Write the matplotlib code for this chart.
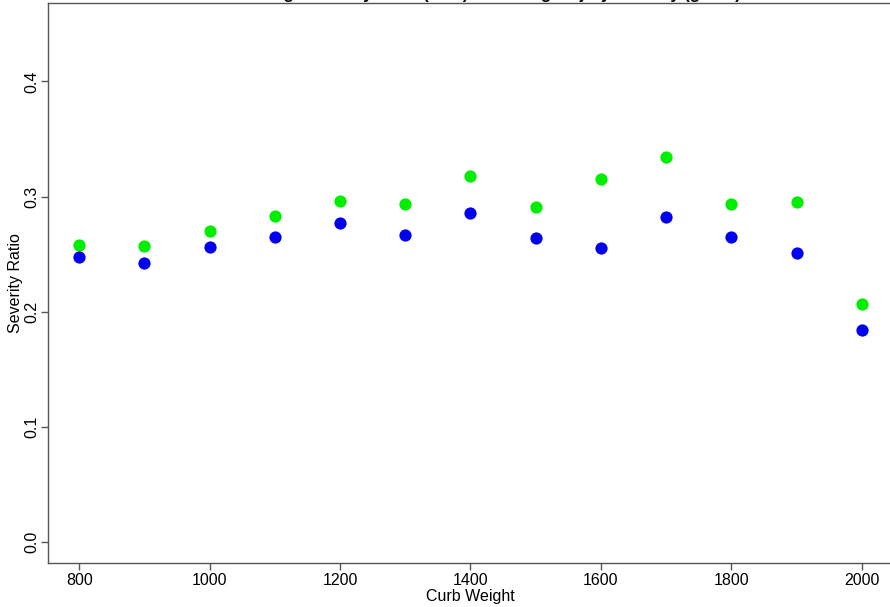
import matplotlib
matplotlib.use("Agg")
import matplotlib.pyplot as plt

plt.rcParams["font.family"] = ["Liberation Sans", "DejaVu Sans"]

curb_weight = [800, 900, 1000, 1100, 1200, 1300, 1400, 1500, 1600, 1700, 1800, 1900, 2000]
ratio_green = [0.258, 0.257, 0.270, 0.283, 0.296, 0.294, 0.3175, 0.291, 0.315, 0.334, 0.294, 0.295, 0.207]
ratio_blue = [0.248, 0.242, 0.256, 0.265, 0.277, 0.267, 0.286, 0.264, 0.255, 0.282, 0.265, 0.251, 0.184]

x_ticks = [800, 1000, 1200, 1400, 1600, 1800, 2000]
y_ticks = [0.0, 0.1, 0.2, 0.3, 0.4]

fig = plt.figure(figsize=(8.9, 6.07), dpi=100)
ax = fig.add_axes([0.0539, 0.0725, 0.9495, 0.9225])

ax.plot(curb_weight, ratio_green, "o", color="#00ee00", markersize=8.8, markeredgewidth=0)
ax.plot(curb_weight, ratio_blue, "o", color="#0000ee", markersize=8.8, markeredgewidth=0)

ax.set_xlim(752, 2048)
ax.set_ylim(-0.018, 0.468)
ax.set_xticks(x_ticks)
ax.set_yticks(y_ticks)
ax.set_yticklabels([f"{v:.1f}" for v in y_ticks], rotation=90, va="center")
ax.tick_params(direction="out", length=5, width=1, color="#555555", labelsize=11.5)
ax.tick_params(axis="x", pad=2)
ax.tick_params(axis="y", pad=1)
for s in ax.spines.values():
    s.set_color("#555555")
    s.set_linewidth(1)

ax.set_xlabel("Curb Weight", fontsize=11.5)
ax.set_ylabel("Severity Ratio", fontsize=11.5)
ax.yaxis.set_label_coords(-0.030, 0.5)
ax.xaxis.set_label_coords(0.5, -0.047)

# title sits mostly above the visible area, as in the original crop
fig.text(0.55, 1.0 + 1.0 / 607, "Average Severity Ratio (blue) vs Average Injury Severity (green)",
         ha="center", va="baseline", fontsize=12, fontweight="bold")

fig.savefig("out.png", dpi=100)
